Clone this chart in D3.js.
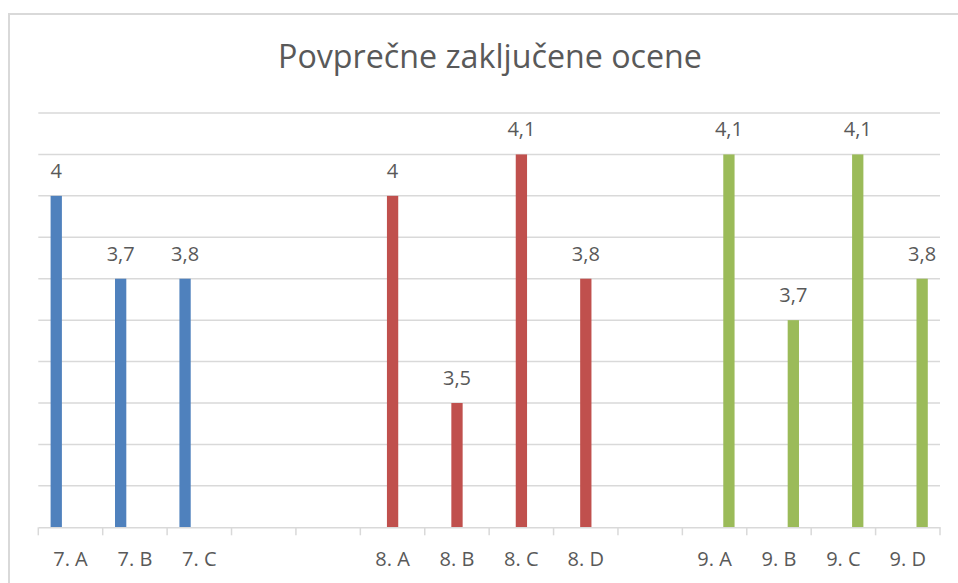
<!DOCTYPE html>
<html>
<head>
<meta charset="utf-8">
<script src="https://cdn.jsdelivr.net/npm/d3@7"></script>
<style>
  body { margin: 0; background: #fff; }
  svg { display: block; font-family: 'Open Sans', sans-serif; }
</style>
</head>
<body>
<svg id="chart" width="958" height="583"></svg>
<script>
// categories on the x axis (empty ones are gaps between grades)
const categories = ["7. A", "7. B", "7. C", "", "", "8. A", "8. B", "8. C", "8. D", "", "9. A", "9. B", "9. C", "9. D"];
const seriesNames = ["7. razred", "8. razred", "9. razred"];
const colors = ["#4F81BD", "#C0504D", "#9BBB59"];

// bar heights per series (null = no bar)
const grade7 = [4.0, 3.8, 3.8, null, null, null, null, null, null, null, null, null, null, null];
const grade8 = [null, null, null, null, null, 4.0, 3.5, 4.1, 3.8, null, null, null, null, null];
const grade9 = [null, null, null, null, null, null, null, null, null, null, 4.1, 3.7, 4.1, 3.8];
// data labels as printed on the chart
const dataLabels = ["4", "3,7", "3,8", "", "", "4", "3,5", "4,1", "3,8", "", "4,1", "3,7", "4,1", "3,8"];

const yMin = 3.2, yMax = 4.2;

const svg = d3.select('#chart');
const width = +svg.attr('width');
const height = +svg.attr('height');
const textColor = '#595959';
const gridColor = '#D9D9D9';

svg.append('rect').attr('width', width).attr('height', height).attr('fill', '#fff');

// chart area border (runs off the right and bottom edge)
svg.append('rect')
  .attr('x', 9).attr('y', 14)
  .attr('width', 1000).attr('height', 700)
  .attr('fill', 'none')
  .attr('stroke', gridColor)
  .attr('stroke-width', 2);

// title
const title = svg.append('text')
  .attr('x', 490).attr('y', 68)
  .attr('text-anchor', 'middle')
  .attr('fill', textColor)
  .attr('font-size', 28)
  .text('Povprečne zaključene ocene');
const tl = title.node().getComputedTextLength();
title.attr('font-size', 28 * 424 / tl);

const margin = {left: 38.3, right: 940, top: 113, bottom: 527.3};

const x = d3.scaleBand()
  .domain(d3.range(categories.length))
  .range([margin.left, margin.right])
  .padding(0);

const xInner = d3.scaleBand()
  .domain(seriesNames)
  .range([12.3, 52.2])
  .paddingInner(0.21);

const y = d3.scaleLinear()
  .domain([yMin, yMax])
  .range([margin.bottom, margin.top]);

// gridlines
svg.append('g')
  .selectAll('line')
  .data(y.ticks(10).filter(d => d > yMin + 1e-9))
  .enter().append('line')
  .attr('x1', margin.left).attr('x2', margin.right)
  .attr('y1', d => y(d)).attr('y2', d => y(d))
  .attr('stroke', gridColor)
  .attr('stroke-width', 1.5);

// bars
const series = [grade7, grade8, grade9];
series.forEach((vals, si) => {
  svg.append('g')
    .selectAll('rect')
    .data(vals.map((v, i) => ({i, v})).filter(d => d.v != null))
    .enter().append('rect')
    .attr('x', d => x(d.i) + xInner(seriesNames[si]))
    .attr('y', d => y(d.v))
    .attr('width', xInner.bandwidth())
    .attr('height', d => y(yMin) - y(d.v))
    .attr('fill', colors[si]);

  svg.append('g')
    .selectAll('text')
    .data(vals.map((v, i) => ({i, v})).filter(d => d.v != null))
    .enter().append('text')
    .attr('x', d => x(d.i) + xInner(seriesNames[si]) + xInner.bandwidth() / 2)
    .attr('y', d => y(d.v) - 18)
    .attr('text-anchor', 'middle')
    .attr('fill', textColor)
    .attr('font-size', 20)
    .text(d => dataLabels[d.i]);
});

// x axis
const xAxis = d3.axisBottom(x)
  .tickSize(0)
  .tickSizeOuter(0)
  .tickFormat(i => categories[i]);

const gx = svg.append('g')
  .attr('transform', `translate(0,${margin.bottom})`)
  .call(xAxis);
gx.select('.domain').attr('stroke', gridColor).attr('stroke-width', 1.5);
gx.selectAll('text')
  .attr('y', 38.5).attr('dy', 0)
  .attr('fill', textColor)
  .attr('font-size', 20)
  .attr('font-family', "'Open Sans', sans-serif");

// tick marks at band edges
const edges = x.domain().map(i => x(i)).concat([margin.right]);
gx.append('g')
  .selectAll('line')
  .data(edges)
  .enter().append('line')
  .attr('x1', d => d).attr('x2', d => d)
  .attr('y1', 0).attr('y2', 8)
  .attr('stroke', gridColor)
  .attr('stroke-width', 1.5);
</script>
</body>
</html>
